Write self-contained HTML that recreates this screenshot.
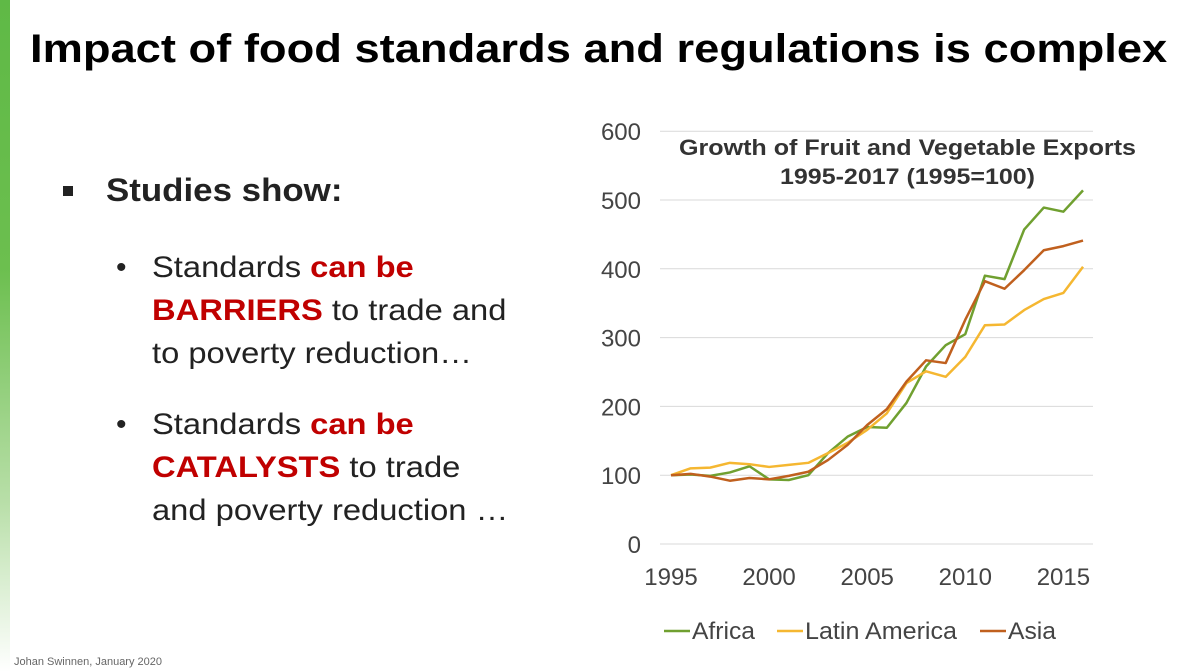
<!DOCTYPE html>
<html><head><meta charset="utf-8"><style>
body{margin:0;width:1200px;height:672px;background:#fff;position:relative;overflow:hidden;font-family:"Liberation Sans",Arial,sans-serif}
.bar{position:absolute;left:0;top:0;width:10px;height:672px;background:linear-gradient(#5fb946 0%,#6cbf4f 40%,#b9dfa9 75%,#fff 100%)}
h1{position:absolute;left:30px;top:27px;margin:0;font-size:40px;font-weight:bold;color:#000;white-space:nowrap;transform:scaleX(1.132);transform-origin:left top}
.t{position:absolute;white-space:nowrap;color:#222;transform-origin:left top}
.w{transform:scaleX(1.09)}
.r{color:#c00000;font-weight:bold}
.sq{position:absolute;left:63px;top:186px;width:10px;height:10px;background:#222}
</style></head><body>
<div class="bar"></div>
<h1>Impact of food standards and regulations is complex</h1>
<div class="sq"></div>
<div class="t w" style="left:106px;top:172px;font-size:32px;font-weight:bold">Studies show:</div>
<div class="t" style="left:116px;top:246px;font-size:30px;line-height:43px">•</div>
<div class="t w" style="left:152px;top:246px;font-size:30px;line-height:43px">Standards <span class="r">can be</span><br><span class="r">BARRIERS</span> to trade and<br>to poverty reduction…</div>
<div class="t" style="left:116px;top:403px;font-size:30px;line-height:43px">•</div>
<div class="t w" style="left:152px;top:403px;font-size:30px;line-height:43px">Standards <span class="r">can be</span><br><span class="r">CATALYSTS</span> to trade<br>and poverty reduction …</div>
<div class="t" style="left:14px;top:656px;font-size:11px;color:#666">Johan Swinnen, January 2020</div>
<svg id="chart" width="1200" height="672" style="position:absolute;left:0;top:0"></svg>
<script>
const years=[1995,1996,1997,1998,1999,2000,2001,2002,2003,2004,2005,2006,2007,2008,2009,2010,2011,2012,2013,2014,2015,2016];
const africa=[100,101,99,104,113,94,93,100,132,156,170,169,205,258,289,305,390,385,457,489,483,514];
const latin=[100,110,111,118,116,112,115,118,132,147,166,190,234,251,243,272,318,319,340,356,365,403];
const asia=[100,102,98,92,96,94,99,105,122,144,173,196,236,267,263,326,382,371,398,427,433,441];
const yTicks=[0,100,200,300,400,500,600];
const xTicks=[1995,2000,2005,2010,2015];
const seriesNames=["Africa","Latin America","Asia"];
const colors=["#70a030","#f5b731","#c0601e"];
const svg=document.getElementById('chart');const NS='http://www.w3.org/2000/svg';
const X=y=>671+(y-1995)*19.62;const Y=v=>544-v*0.688;
const F='Liberation Sans, sans-serif';
function mk(t,a){const e=document.createElementNS(NS,t);for(const k in a)e.setAttribute(k,a[k]);svg.appendChild(e);return e;}
yTicks.forEach(v=>{
const g=mk('line',{x1:660,x2:1093,y1:Y(v),y2:Y(v),stroke:'#d9d9d9','stroke-width':1});


const t=mk('text',{x:641,y:Y(v)+9,'text-anchor':'end','font-size':24,fill:'#444','font-family':F});t.textContent=v;


});
xTicks.forEach(v=>{
const t=mk('text',{x:X(v),y:585,'text-anchor':'middle','font-size':24,fill:'#444','font-family':F});t.textContent=v;


});
[africa,latin,asia].forEach((s,i)=>{
const p=mk('polyline',{points:s.map((v,j)=>X(years[j])+','+Y(v)).join(' '),fill:'none',stroke:colors[i],'stroke-width':2.5,'stroke-linejoin':'round'});


});
const tt=mk('text',{x:679,y:155,'font-size':22,'font-weight':'bold',fill:'#333','font-family':F,textLength:457,lengthAdjust:'spacingAndGlyphs'});tt.textContent='Growth of Fruit and Vegetable Exports';


const t2=mk('text',{x:780,y:184,'font-size':22,'font-weight':'bold',fill:'#333','font-family':F,textLength:255,lengthAdjust:'spacingAndGlyphs'});t2.textContent='1995-2017 (1995=100)';


const lx=[664,777,980];
const lw=[63,152,48];
seriesNames.forEach((n,i)=>{
const l=mk('line',{x1:lx[i],x2:lx[i]+26,y1:631,y2:631,stroke:colors[i],'stroke-width':2.5});


const t=mk('text',{x:lx[i]+28,y:639,'font-size':24,fill:'#444','font-family':F,textLength:lw[i],lengthAdjust:'spacingAndGlyphs'});t.textContent=n;


});
</script>
</body></html>
